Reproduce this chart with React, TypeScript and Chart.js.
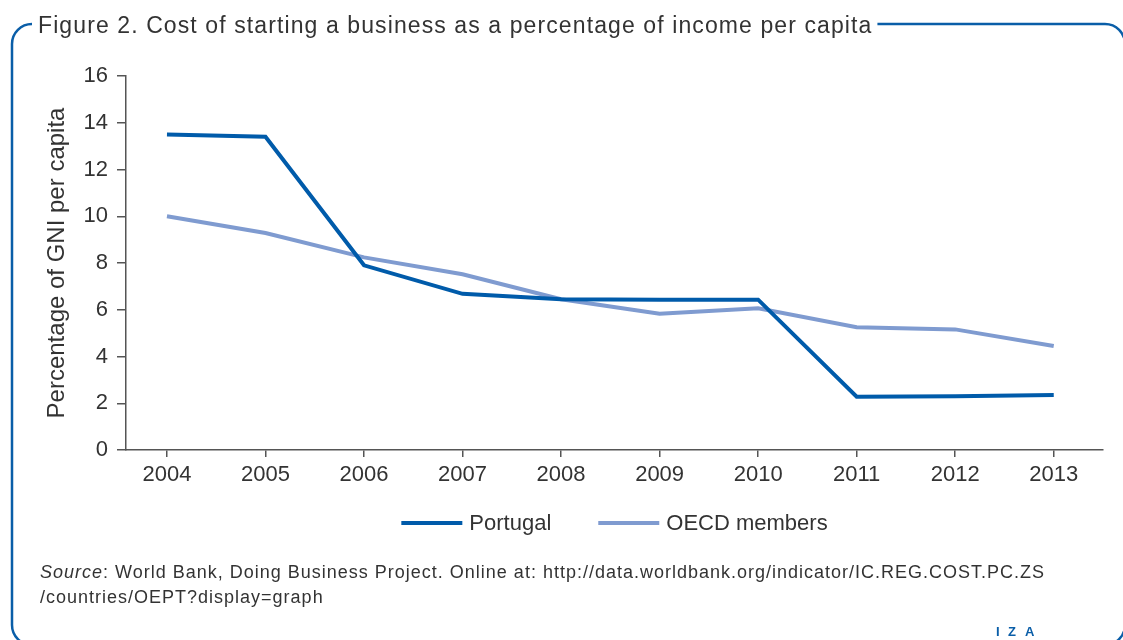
import React, { useEffect, useRef } from "react";
import { Chart, registerables } from "chart.js";

Chart.register(...registerables);

const years = [2004, 2005, 2006, 2007, 2008, 2009, 2010, 2011, 2012, 2013];
const portugal = [13.5, 13.4, 7.9, 6.68, 6.45, 6.43, 6.43, 2.28, 2.3, 2.35];
const oecd = [10.0, 9.28, 8.24, 7.52, 6.45, 5.83, 6.06, 5.25, 5.16, 4.45];
const seriesLabels = ["Portugal", "OECD members"];
const yTickValues = [0, 2, 4, 6, 8, 10, 12, 14, 16];

const titleText = "Figure 2. Cost of starting a business as a percentage of income per capita";
const yAxisTitle = "Percentage of GNI per capita";
const sourceItalic = "Source";
const sourceLine1 = ": World Bank, Doing Business Project. Online at: http://data.worldbank.org/indicator/IC.REG.COST.PC.ZS";
const sourceLine2 = "/countries/OEPT?display=graph";
const logoLetters = ["I", "Z", "A"];

const FONT = '"Liberation Sans", Arial, sans-serif';
const TEXT = "#333333";
const AXIS = "#555555";
const FRAME = "#0a5ea8";
const C_PT = "#005baa";
const C_OECD = "#7f9bd0";

const decorPlugin = {
  id: "decor",
  afterDraw(chart: any) {
    const ctx = chart.ctx as CanvasRenderingContext2D & { letterSpacing?: string };
    const area = chart.chartArea;
    ctx.save();

    // Title
    ctx.font = `23px ${FONT}`;
    ctx.letterSpacing = "1.1px";
    ctx.fillStyle = TEXT;
    ctx.textAlign = "left";
    ctx.textBaseline = "alphabetic";
    ctx.fillText(titleText, 38, 33);
    const tw = ctx.measureText(titleText).width;
    ctx.letterSpacing = "0px";

    // Frame
    const L = 12, T = 24, R = 1125, B = 645, r = 20;
    ctx.beginPath();
    ctx.moveTo(38 + tw + 5, T);
    ctx.lineTo(R - r, T);
    ctx.arcTo(R, T, R, T + r, r);
    ctx.lineTo(R, B - r);
    ctx.arcTo(R, B, R - r, B, r);
    ctx.lineTo(L + r, B);
    ctx.arcTo(L, B, L, B - r, r);
    ctx.lineTo(L, T + r);
    ctx.arcTo(L, T, L + r, T, r);
    ctx.strokeStyle = FRAME;
    ctx.lineWidth = 2.5;
    ctx.stroke();

    // Legend
    ctx.font = `22px ${FONT}`;
    const lineW = 61, gapText = 7, gapItem = 47;
    const ds = chart.data.datasets;
    const widths = ds.map((d: any) => ctx.measureText(d.label).width);
    let total = 0;
    ds.forEach((_: any, i: number) => {
      total += lineW + gapText + widths[i];
      if (i < ds.length - 1) total += gapItem;
    });
    let x = (area.left + area.right) / 2 - total / 2;
    const ly = 523;
    ds.forEach((d: any, i: number) => {
      ctx.beginPath();
      ctx.moveTo(x, ly);
      ctx.lineTo(x + lineW, ly);
      ctx.strokeStyle = d.borderColor;
      ctx.lineWidth = 4;
      ctx.lineCap = "butt";
      ctx.stroke();
      ctx.fillStyle = TEXT;
      ctx.textBaseline = "middle";
      ctx.fillText(d.label, x + lineW + gapText, ly + 1);
      x += lineW + gapText + widths[i] + gapItem;
    });

    // Source
    ctx.textBaseline = "alphabetic";
    ctx.fillStyle = TEXT;
    ctx.letterSpacing = "1px";
    ctx.font = `italic 18px ${FONT}`;
    ctx.fillText(sourceItalic, 40, 578);
    const iw = ctx.measureText(sourceItalic).width;
    ctx.font = `18px ${FONT}`;
    ctx.fillText(sourceLine1, 40 + iw, 578);
    ctx.fillText(sourceLine2, 40, 603);
    ctx.letterSpacing = "0px";

    // Logo
    ctx.font = `bold 13px ${FONT}`;
    ctx.fillStyle = FRAME;
    const lx = [996, 1008, 1025];
    logoLetters.forEach((ch, i) => ctx.fillText(ch, lx[i], 636));

    ctx.restore();
  },
};

export default function App() {
  const ref = useRef<HTMLCanvasElement | null>(null);

  useEffect(() => {
    if (!ref.current) return;
    const chart = new Chart(ref.current, {
      type: "line",
      data: {
        datasets: [
          {
            label: seriesLabels[0],
            data: years.map((y, i) => ({ x: y, y: portugal[i] })),
            borderColor: C_PT,
            backgroundColor: C_PT,
            borderWidth: 4,
            pointRadius: 0,
            tension: 0,
          },
          {
            label: seriesLabels[1],
            data: years.map((y, i) => ({ x: y, y: oecd[i] })),
            borderColor: C_OECD,
            backgroundColor: C_OECD,
            borderWidth: 4,
            pointRadius: 0,
            tension: 0,
          },
        ],
      },
      options: {
        animation: false,
        responsive: false,
        maintainAspectRatio: false,
        layout: { padding: { left: 30, top: 76, right: 20, bottom: 146.6 } },
        plugins: {
          legend: { display: false },
          tooltip: { enabled: false },
          title: { display: false },
        },
        scales: {
          x: {
            type: "linear",
            min: years[0] - 0.416,
            max: years[years.length - 1] + 0.5,
            afterBuildTicks: (scale: any) => {
              scale.ticks = years.map((v) => ({ value: v }));
            },
            grid: { drawOnChartArea: false, drawTicks: true, tickLength: 7, color: AXIS, lineWidth: 1.5 },
            border: { display: true, color: AXIS, width: 1.5 },
            ticks: {
              color: TEXT,
              font: { family: FONT, size: 22 },
              padding: 5,
              maxRotation: 0,
              autoSkip: false,
              callback: (v: any) => String(v),
            },
          },
          y: {
            type: "linear",
            min: 0,
            max: 16,
            afterBuildTicks: (scale: any) => {
              scale.ticks = yTickValues.map((v) => ({ value: v }));
            },
            grid: { drawOnChartArea: false, drawTicks: true, tickLength: 9, color: AXIS, lineWidth: 1.5 },
            border: { display: true, color: AXIS, width: 1.5 },
            ticks: {
              color: TEXT,
              font: { family: FONT, size: 22 },
              padding: 9,
              callback: (v: any) => String(v),
            },
            title: {
              display: true,
              text: yAxisTitle,
              color: TEXT,
              font: { family: FONT, size: 24 },
              padding: { top: 12.6, bottom: 3.1 },
            },
          },
        },
      },
      plugins: [decorPlugin],
    });
    return () => chart.destroy();
  }, []);

  return (
    <div style={{ position: "fixed", left: 0, top: 0, width: 1123, height: 640, background: "#fff" }}>
      <canvas ref={ref} width={1123} height={640} style={{ width: 1123, height: 640, display: "block" }} />
    </div>
  );
}
